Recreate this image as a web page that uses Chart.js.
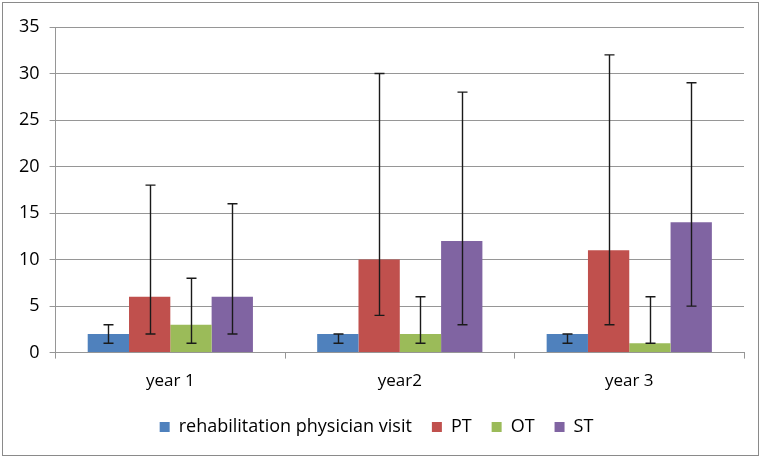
<!DOCTYPE html>
<html>
<head>
<meta charset="utf-8">
<script src="https://cdn.jsdelivr.net/npm/chart.js@4/dist/chart.umd.min.js"></script>
<style>
html,body{margin:0;padding:0;background:#fff;}
#wrap{position:relative;width:762px;height:459px;}
#frame{position:absolute;left:2px;top:2px;width:755px;height:452px;border:1px solid #8a8a8a;pointer-events:none;}
canvas{position:absolute;left:0;top:0;}
</style>
</head>
<body>
<div id="wrap"><canvas id="c" width="762" height="459"></canvas><div id="frame"></div></div>
<script>
const categories = ["year 1", "year2", "year 3"];
const seriesNames = ["rehabilitation physician visit", "PT", "OT", "ST"];
const rehabVisit = [2, 2, 2];
const pt = [6, 10, 11];
const ot = [3, 2, 1];
const st = [6, 12, 14];
const rehabLow = [1, 1, 1];
const rehabHigh = [3, 2, 2];
const ptLow = [2, 4, 3];
const ptHigh = [18, 30, 32];
const otLow = [1, 1, 1];
const otHigh = [8, 6, 6];
const stLow = [2, 3, 5];
const stHigh = [16, 28, 29];
const yTicks = [0, 5, 10, 15, 20, 25, 30, 35];

const colors = ["#4F81BD", "#C0504D", "#9BBB59", "#8064A2"];
const values = [rehabVisit, pt, ot, st];
const lows = [rehabLow, ptLow, otLow, stLow];
const highs = [rehabHigh, ptHigh, otHigh, stHigh];

const errorBars = {
  id: 'errorBars',
  afterDatasetsDraw(chart) {
    const ctx = chart.ctx;
    const ys = chart.scales.y;
    ctx.save();
    ctx.strokeStyle = '#1a1a1a';
    ctx.lineWidth = 1.4;
    chart.data.datasets.forEach((ds, i) => {
      const meta = chart.getDatasetMeta(i);
      meta.data.forEach((el, j) => {
        const x = Math.round(el.x) + 0.5;
        const y1 = ys.getPixelForValue(lows[i][j]);
        const y2 = ys.getPixelForValue(highs[i][j]);
        const cap = 5;
        ctx.beginPath();
        ctx.moveTo(x, y1); ctx.lineTo(x, y2);
        ctx.moveTo(x - cap, y1); ctx.lineTo(x + cap, y1);
        ctx.moveTo(x - cap, y2); ctx.lineTo(x + cap, y2);
        ctx.stroke();
      });
    });
    ctx.restore();
  }
};

new Chart(document.getElementById('c'), {
  type: 'bar',
  data: {
    labels: categories,
    datasets: seriesNames.map((n, i) => ({
      label: n,
      data: values[i],
      backgroundColor: colors[i],
      borderWidth: 0,
      categoryPercentage: 0.72,
      barPercentage: 1.0
    }))
  },
  options: {
    responsive: false,
    animation: false,
    devicePixelRatio: 1,
    layout: { padding: { left: 9, right: 18, top: 27, bottom: 13 } },
    plugins: {
      legend: {
        position: 'bottom',
        labels: {
          boxWidth: 10, boxHeight: 10, padding: 20,
          color: '#000',
          font: { family: 'Open Sans', size: 18 }
        }
      },
      tooltip: { enabled: false }
    },
    scales: {
      x: {
        afterFit(scale) { scale.height -= 5; },
        grid: { display: true, drawOnChartArea: false, offset: true, color: '#969696', tickLength: 6 },
        border: { color: '#969696' },
        ticks: { color: '#000', font: { family: 'Open Sans', size: 17 }, padding: 12 }
      },
      y: {
        min: 0, max: 35,
        afterBuildTicks(scale) { scale.ticks = yTicks.map(v => ({ value: v })); },
        grid: { color: '#969696', tickLength: 6 },
        border: { color: '#969696' },
        ticks: { color: '#000', font: { family: 'Open Sans', size: 18 }, padding: 10 }
      }
    }
  },
  plugins: [errorBars]
});
</script>
</body>
</html>
